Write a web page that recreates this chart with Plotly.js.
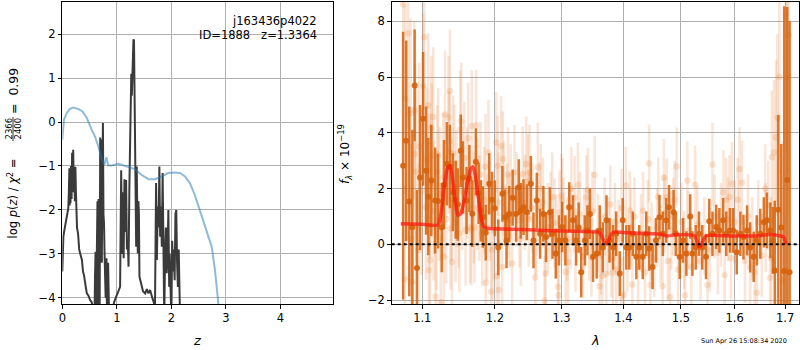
<!DOCTYPE html>
<html>
<head>
<meta charset="utf-8">
<script src="https://cdn.plot.ly/plotly-3.0.1.min.js"></script>
<style>html,body{margin:0;padding:0;background:#fff;}#plot{width:800px;height:350px;}</style>
</head>
<body>
<div id="plot"></div>
<script>
// ---------- Left panel: log p(z) ----------
const zPz = [0.00, 0.01, 0.02, 0.04, 0.07, 0.09, 0.11, 0.12, 0.13, 0.135, 0.14, 0.15, 0.16, 0.17, 0.18, 0.19, 0.20, 0.21, 0.22, 0.23, 0.24, 0.25, 0.26, 0.27, 0.29, 0.31, 0.33, 0.36, 0.38, 0.40, 0.43, 0.45, 0.48, 0.51, 0.54, 0.57, 0.59, 0.60, 0.61, 0.62, 0.63, 0.645, 0.655, 0.665, 0.675, 0.685, 0.695, 0.705, 0.715, 0.725, 0.735, 0.745, 0.755, 0.765, 0.775, 0.785, 0.795, 0.81, 0.82, 0.84, 0.86, 0.89, 0.92, 0.95, 0.98, 1.01, 1.04, 1.06, 1.08, 1.095, 1.11, 1.125, 1.14, 1.155, 1.17, 1.185, 1.20, 1.215, 1.23, 1.24, 1.255, 1.265, 1.275, 1.285, 1.295, 1.305, 1.315, 1.325, 1.335, 1.345, 1.355, 1.365, 1.375, 1.385, 1.395, 1.405, 1.415, 1.43, 1.45, 1.48, 1.52, 1.55, 1.58, 1.61, 1.64, 1.67, 1.70, 1.72, 1.735, 1.75, 1.765, 1.78, 1.795, 1.81, 1.825, 1.84, 1.855, 1.87, 1.885, 1.90, 1.915, 1.93, 1.945, 1.96, 1.97, 1.985, 2.00, 2.015, 2.03, 2.045, 2.06, 2.075, 2.09, 2.105, 2.12, 2.135, 2.15, 2.16];
const logPz = [-3.4, -3.0, -2.6, -2.45, -2.23, -2.05, -1.96, -1.6, -1.05, -1.9, -1.2, -1.85, -1.0, -1.75, -0.7, -1.6, -0.63, -1.5, -1.1, -1.8, -1.02, -1.6, -1.9, -2.4, -2.55, -2.9, -3.0, -3.14, -3.4, -3.5, -3.75, -3.9, -3.95, -4.05, -4.1, -4.5, -4.5, -3.5, -2.95, -4.3, -3.0, -1.8, -4.4, -1.75, -3.6, -4.4, -0.35, -2.8, -0.4, -3.2, -1.3, -0.02, -2.1, -2.3, -3.0, -3.3, -4.0, -3.1, -4.5, -3.2, -4.5, -4.5, -4.3, -4.1, -4.0, -3.9, -3.8, -3.75, -1.1, -3.0, -1.6, -3.1, -1.3, -2.5, -1.32, -2.9, -2.68, -3.29, -1.5, -0.71, 0.3, 1.1, 0.6, 1.12, 0.97, 1.88, 1.85, 0.81, -1.09, -2.2, -2.84, -1.01, -2.5, -2.99, -1.8, -2.08, -3.52, -3.6, -3.75, -3.85, -3.9, -3.8, -3.9, -3.82, -3.95, -4.05, -4.2, -1.39, -3.14, -1.92, -2.4, -1.01, -2.61, -1.92, -2.84, -1.16, -3.3, -4.5, -2.99, -2.4, -3.44, -2.99, -2.0, -3.75, -3.0, -3.5, -4.5, -2.7, -3.4, -2.9, -3.6, -2.1, -2.0, -3.2, -3.75, -2.9, -4.5, -4.5];
const zPrior = [0.0, 0.007, 0.03, 0.08, 0.14, 0.2, 0.29, 0.37, 0.45, 0.54, 0.6, 0.66, 0.72, 0.77, 0.81, 0.84, 0.9, 1.03, 1.18, 1.33, 1.45, 1.58, 1.7, 1.82, 1.94, 2.06, 2.16, 2.25, 2.34, 2.43, 2.52, 2.64, 2.74, 2.8, 2.86, 2.9];
const logPrior = [-0.4, -0.21, 0.05, 0.2, 0.3, 0.33, 0.3, 0.24, 0.09, -0.18, -0.33, -0.55, -0.82, -0.97, -0.8, -0.99, -0.99, -0.95, -1.01, -1.07, -1.2, -1.3, -1.3, -1.24, -1.16, -1.15, -1.16, -1.24, -1.39, -1.66, -2.0, -2.46, -2.84, -3.37, -4.13, -4.6];
const zTicks = [0, 1, 2, 3, 4];
const pzTicks = [-4, -3, -2, -1, 0, 1, 2];

// ---------- Right panel: spectrum ----------
const lamDark = [1.075, 1.079, 1.083, 1.087, 1.090, 1.093, 1.097, 1.101, 1.105, 1.108, 1.112, 1.117, 1.121, 1.126, 1.129, 1.133, 1.137, 1.141, 1.145, 1.148, 1.152, 1.155, 1.160, 1.164, 1.168, 1.173, 1.177, 1.180, 1.183, 1.187, 1.192, 1.196, 1.200, 1.205, 1.211, 1.215, 1.217, 1.221, 1.226, 1.231, 1.235, 1.238, 1.242, 1.247, 1.253, 1.257, 1.262, 1.267, 1.272, 1.276, 1.282, 1.286, 1.291, 1.296, 1.301, 1.306, 1.312, 1.318, 1.323, 1.327, 1.331, 1.337, 1.341, 1.345, 1.350, 1.356, 1.361, 1.366, 1.372, 1.377, 1.383, 1.388, 1.394, 1.399, 1.405, 1.410, 1.416, 1.422, 1.427, 1.433, 1.439, 1.444, 1.450, 1.456, 1.462, 1.468, 1.474, 1.479, 1.487, 1.491, 1.498, 1.504, 1.510, 1.517, 1.521, 1.527, 1.533, 1.539, 1.546, 1.552, 1.558, 1.565, 1.571, 1.578, 1.584, 1.591, 1.597, 1.604, 1.611, 1.617, 1.624, 1.630, 1.637, 1.643, 1.650, 1.657, 1.663, 1.670, 1.675, 1.679, 1.686, 1.692, 1.698, 1.704, 1.709];
const fluxDark = [2.82, 3.71, 1.54, 0.61, 5.70, -0.85, 2.40, 4.50, 2.64, 1.71, 2.29, 1.57, 1.55, 0.60, 2.14, 2.89, 2.79, 1.87, 1.60, 1.43, 3.36, 2.40, 1.57, 2.36, 1.10, 2.96, 1.83, 1.20, 0.98, 0.42, 2.17, 1.60, 1.29, -0.11, 1.81, 0.97, 0.14, 1.09, 1.67, 1.09, 2.05, 1.20, 1.33, 1.15, 2.17, 0.14, 1.57, 0.38, 1.09, 0.26, 1.15, 0.38, -0.33, 0.14, 0.62, 0.14, 1.33, 0.86, 0.14, 0.60, -1.00, 0.14, 0.50, 1.09, -0.45, -0.33, 0.50, -0.11, 0.86, 0.14, -0.11, 0.38, -1.05, 0.86, -0.11, -0.11, 0.38, -0.45, -0.11, -0.45, 0.38, -0.15, -0.81, 0.14, 0.97, 0.38, 0.86, 1.33, 1.15, 0.38, -0.45, 0.14, -0.33, 1.00, -0.33, -0.11, 0.38, -0.11, -0.45, 0.83, 0.38, 0.62, 0.50, 0.86, 0.38, 0.50, 0.50, -0.28, 0.38, 0.26, 0.50, -0.11, -0.45, 0.14, 0.38, 0.79, 0.86, 0.50, 0.14, -0.94, 1.24, 0.60, -0.96, 2.31, -1.00];
const errDark = [4.8, 3.6, 3.4, 3.5, 2.0, 2.8, 2.6, 2.4, 2.3, 2.1, 2.0, 1.9, 1.7, 1.6, 1.6, 1.5, 1.5, 1.4, 1.4, 1.3, 1.3, 1.3, 1.2, 1.2, 1.2, 1.2, 1.1, 1.1, 1.1, 1.0, 1.1, 1.0, 1.0, 1.0, 1.0, 1.0, 1.0, 1.0, 1.0, 1.0, 1.0, 1.0, 1.0, 1.0, 1.0, 1.0, 1.0, 0.9, 1.0, 0.9, 0.9, 0.9, 0.9, 0.9, 0.9, 0.9, 0.9, 0.9, 0.9, 0.9, 0.9, 0.9, 0.9, 0.9, 0.9, 0.9, 0.9, 0.9, 0.9, 0.8, 0.8, 0.8, 0.8, 0.8, 0.8, 0.8, 0.8, 0.8, 0.8, 0.8, 0.8, 0.8, 0.8, 0.8, 0.8, 0.8, 0.8, 0.8, 0.8, 0.8, 0.8, 0.8, 0.8, 0.8, 0.8, 0.8, 0.8, 0.8, 0.8, 0.8, 0.8, 0.8, 0.8, 0.8, 0.8, 0.8, 0.8, 0.8, 0.8, 0.8, 0.9, 0.9, 0.9, 0.9, 0.9, 0.9, 1.0, 1.0, 1.2, 2.5, 3.4, 3.0, 9.5, 6.2, 9.0];

const lamLight = [1.0752, 1.0772, 1.0816, 1.0847, 1.0869, 1.0895, 1.0904, 1.0961, 1.1013, 1.1026, 1.1049, 1.1079, 1.1089, 1.1102, 1.1119, 1.1124, 1.1146, 1.1177, 1.1190, 1.1212, 1.1248, 1.1288, 1.1305, 1.1351, 1.1372, 1.1378, 1.1400, 1.1413, 1.1449, 1.1490, 1.1513, 1.1527, 1.1586, 1.1623, 1.1665, 1.1673, 1.1735, 1.1795, 1.1866, 1.1870, 1.1909, 1.1948, 1.1962, 1.2020, 1.2029, 1.2043, 1.2058, 1.2092, 1.2107, 1.2116, 1.2189, 1.2214, 1.2253, 1.2287, 1.2361, 1.2410, 1.2461, 1.2485, 1.2510, 1.2596, 1.2636, 1.2662, 1.2712, 1.2738, 1.2753, 1.2857, 1.2892, 1.2944, 1.2955, 1.2970, 1.2997, 1.3012, 1.3064, 1.3100, 1.3154, 1.3206, 1.3258, 1.3338, 1.3393, 1.3418, 1.3473, 1.3527, 1.3608, 1.3652, 1.3718, 1.3784, 1.3827, 1.3883, 1.3967, 1.4011, 1.4040, 1.4107, 1.4153, 1.4335, 1.4440, 1.4464, 1.4599, 1.4676, 1.4699, 1.4748, 1.4806, 1.4866, 1.4927, 1.5076, 1.5118, 1.5259, 1.5487, 1.5580, 1.5787, 1.5838, 1.5901, 1.5947, 1.6093, 1.6140, 1.6301, 1.6432, 1.6596, 1.6695, 1.6729, 1.6775, 1.6815, 1.6841, 1.6882, 1.7012, 1.7045,
  1.078, 1.085, 1.092, 1.095, 1.099, 1.106, 1.110, 1.115, 1.120, 1.123, 1.128, 1.132, 1.136, 1.139, 1.143, 1.146, 1.150, 1.154, 1.157, 1.161, 1.165, 1.170, 1.171, 1.175, 1.178, 1.182, 1.185, 1.189, 1.193, 1.199, 1.205, 1.213, 1.218, 1.223, 1.232, 1.238, 1.244, 1.250, 1.255, 1.261, 1.268, 1.279, 1.283, 1.292, 1.303, 1.309, 1.314, 1.322, 1.329, 1.336, 1.344, 1.349, 1.358, 1.363, 1.369, 1.375, 1.380, 1.386, 1.392, 1.397, 1.407, 1.413, 1.419, 1.425, 1.430, 1.437, 1.442, 1.448, 1.453, 1.458, 1.464, 1.471, 1.477, 1.483, 1.489, 1.495, 1.501, 1.506, 1.514, 1.519, 1.530, 1.536, 1.543, 1.553, 1.562, 1.568, 1.574, 1.581, 1.587, 1.593, 1.600, 1.606, 1.620, 1.626, 1.634, 1.639, 1.646, 1.653, 1.661, 1.666, 1.672, 1.695, 1.707];
const fluxLight = [8.6, -1.26, 7.56, 4.7, -1.35, 4.82, 3.24, 3.51, 5.68, 7.43, 1.33, 4.99, -0.93, -0.57, 4.16, 3.18, 4.57, -1.88, 0.86, 3.21, -2.07, -0.45, 4.66, 4.55, 5.5, 0.57, -0.63, 3.24, 0.76, 1.24, 4.13, 4.41, 0.52, 3.8, 0.52, 4.24, 4.27, 2.5, 2.78, -1.38, 3.29, -1.7, -0.19, 3.65, -1.14, 2.82, -1.64, 3.52, -0.81, 3.06, 2.5, 0.86, -0.69, 2.58, 0.86, 2.52, 2.88, 2.24, 2.58, -1.19, 2.76, 1.33, 1.51, -2.02, -1.05, 1.69, 0.76, -1.52, -1.83, 1.15, 1.75, 1.59, -0.99, -0.63, 1.99, 1.67, 2.14, -0.45, 1.69, 1.95, -0.48, 2.49, -1.5, -1.14, -1.07, 1.43, -1.02, -0.9, -1.88, -1.8, 2.1, 1.21, -1.44, 1.2, 2.9, -1.46, 1.71, -1.5, 2.38, 1.69, -1.9, 0.97, 2.79, -1.83, 2.29, 2.14, -1.46, 2.86, 1.87, 1.6, 1.7, 2.17, 2.7, 2.21, -0.81, -1.74, 1.99, -1.2, 3.12, 3.29, 3.83, 4.54, 6.0, 8.26, 6.0,
  5.2, 0.2, 2.6, -0.2, 1.9, 3.0, 2.1, 1.2, 2.6, 1.8, 2.4, 0.9, 3.3, 1.6, 2.9, 2.0, 0.4, 1.9, 3.1, 2.2, 0.6, 1.3, 0.6, 1.8, 1.3, 0.4, 1.6, 0.6, 1.2, 0.5, 1.5, 2.0, 1.2, 1.9, 1.6, 0.2, 1.5, 0.9, 1.3, 0.5, 2.0, 0.6, 1.0, 0.3, 0.9, 0.2, 0.6, -0.2, 1.1, 0.5, 0.1, 1.2, 0.4, -0.4, 1.0, 0.3, -0.5, 0.8, 0.2, 1.3, -0.3, 0.6, 1.0, -0.8, 0.4, -1.0, 0.9, 0.1, -0.5, 0.6, 0.0, 1.1, -0.6, 0.5, 1.6, -0.9, 0.8, -0.2, 0.5, -0.8, 0.7, -0.6, 0.3, -0.2, 1.0, -0.3, 0.7, -1.1, 0.9, -0.5, 0.8, 1.6, -0.6, 1.0, 0.2, -1.0, 0.8, -0.4, 0.6, 1.4, -0.5, -1.3, 7.5];
const errLight = [3.4, 3.4, 3.4, 3.4, 3.4, 3.2, 3.2, 3.0, 2.6, 2.6, 2.6, 2.6, 2.6, 2.6, 2.6, 2.6, 2.5, 2.5, 2.5, 2.4, 2.4, 2.3, 2.3, 2.2, 2.2, 2.2, 2.2, 2.1, 2.1, 2.1, 2.1, 2.1, 2.0, 2.0, 2.0, 2.0, 2.0, 1.9, 1.9, 1.9, 1.9, 1.8, 1.8, 1.8, 1.8, 1.8, 1.8, 1.8, 1.8, 1.7, 1.7, 1.7, 1.7, 1.7, 1.7, 1.7, 1.7, 1.7, 1.7, 1.6, 1.6, 1.6, 1.6, 1.6, 1.6, 1.6, 1.6, 1.5, 1.5, 1.5, 1.5, 1.5, 1.5, 1.5, 1.5, 1.5, 1.5, 1.5, 1.5, 1.5, 1.4, 1.4, 1.4, 1.4, 1.4, 1.4, 1.4, 1.4, 1.4, 1.4, 1.4, 1.4, 1.4, 1.4, 1.4, 1.4, 1.4, 1.4, 1.4, 1.4, 1.4, 1.4, 1.4, 1.4, 1.4, 1.4, 1.4, 1.5, 1.5, 1.5, 1.5, 1.5, 1.5, 1.5, 1.5, 1.5, 1.6, 2.2, 2.4, 2.6, 2.8, 3.0, 3.5, 5.0, 5.0,
  3.4, 3.4, 3.2, 3.1, 3.0, 2.6, 2.6, 2.5, 2.4, 2.4, 2.3, 2.3, 2.2, 2.2, 2.1, 2.1, 2.1, 2.1, 2.0, 2.0, 2.0, 2.0, 2.0, 2.0, 1.9, 1.9, 1.9, 1.9, 1.8, 1.8, 1.8, 1.7, 1.7, 1.7, 1.7, 1.7, 1.7, 1.7, 1.6, 1.6, 1.6, 1.6, 1.6, 1.5, 1.5, 1.5, 1.5, 1.5, 1.5, 1.5, 1.4, 1.4, 1.4, 1.4, 1.4, 1.4, 1.4, 1.4, 1.4, 1.4, 1.4, 1.4, 1.4, 1.4, 1.4, 1.4, 1.4, 1.4, 1.4, 1.4, 1.4, 1.4, 1.4, 1.4, 1.4, 1.4, 1.4, 1.4, 1.4, 1.4, 1.4, 1.4, 1.4, 1.5, 1.5, 1.5, 1.5, 1.5, 1.5, 1.5, 1.5, 1.5, 1.5, 1.5, 1.5, 1.5, 1.5, 1.5, 1.6, 1.6, 2.2, 5.0, 5.0];

const lamModel = [1.072, 1.100, 1.121, 1.126, 1.130, 1.134, 1.137, 1.140, 1.144, 1.148, 1.152, 1.157, 1.162, 1.166, 1.169, 1.172, 1.176, 1.180, 1.184, 1.188, 1.20, 1.25, 1.30, 1.35, 1.358, 1.362, 1.366, 1.370, 1.374, 1.378, 1.382, 1.388, 1.40, 1.45, 1.465, 1.475, 1.49, 1.52, 1.525, 1.529, 1.533, 1.537, 1.541, 1.546, 1.55, 1.60, 1.65, 1.665, 1.675, 1.69, 1.697, 1.701];
const fluxModel = [0.74, 0.72, 0.70, 1.3, 2.2, 2.75, 2.82, 2.5, 1.6, 1.04, 1.1, 1.6, 2.3, 2.7, 2.78, 2.5, 1.8, 1.0, 0.65, 0.58, 0.56, 0.52, 0.48, 0.45, 0.44, 0.38, 0.2, 0.03, 0.05, 0.28, 0.42, 0.44, 0.42, 0.38, 0.36, 0.3, 0.34, 0.33, 0.3, 0.15, -0.08, -0.05, 0.15, 0.3, 0.32, 0.3, 0.31, 0.35, 0.34, 0.3, 0.26, 0.0];
const lamTicks = [1.1, 1.2, 1.3, 1.4, 1.5, 1.6, 1.7];
const lamTickText = ['1.1', '1.2', '1.3', '1.4', '1.5', '1.6', '1.7'];
const fluxTicks = [-2, 0, 2, 4, 6, 8];

// ---------- helpers for layout placement (pixels -> paper) ----------
const W = 800, TOP = 2, BOT = 304;
const PX = x => x / W;
const PY = y => (BOT - y) / (BOT - TOP);

const FONT = 'DejaVu Sans, sans-serif';
const gridC = '#b0b0b0';

const axisCommon = {
  showline: true, linecolor: '#000', linewidth: 1, mirror: true,
  ticks: 'outside', ticklen: 3.5, tickwidth: 1, tickcolor: '#000',
  showgrid: true, gridcolor: gridC, gridwidth: 1, zeroline: false,
  ticklabelstandoff: 2.5,
  tickfont: {family: FONT, size: 11.5, color: '#000'}
};

const traces = [
  {x: zPz, y: logPz, xaxis: 'x', yaxis: 'y', type: 'scatter', mode: 'lines',
   line: {color: '#3a3a3a', width: 2}, hoverinfo: 'skip'},
  {x: zPrior, y: logPrior, xaxis: 'x', yaxis: 'y', type: 'scatter', mode: 'lines',
   line: {color: 'rgba(31,119,180,0.5)', width: 2}, hoverinfo: 'skip'},
  {x: lamLight, y: fluxLight, xaxis: 'x2', yaxis: 'y2', type: 'scatter', mode: 'markers',
   marker: {color: 'rgba(232,130,60,0.22)', size: 6.5, line: {width: 0}},
   error_y: {type: 'data', array: errLight, visible: true, color: 'rgba(232,130,60,0.2)', thickness: 2.6, width: 0},
   hoverinfo: 'skip'},
  {x: lamDark, y: fluxDark, xaxis: 'x2', yaxis: 'y2', type: 'scatter', mode: 'markers',
   marker: {color: 'rgba(214,98,12,0.9)', size: 6, line: {width: 0}},
   error_y: {type: 'data', array: errDark, visible: true, color: 'rgba(214,98,12,0.85)', thickness: 2.5, width: 0},
   hoverinfo: 'skip'},
  {x: lamModel, y: fluxModel, xaxis: 'x2', yaxis: 'y2', type: 'scatter', mode: 'lines',
   line: {color: 'rgba(255,20,10,0.7)', width: 3.5, shape: 'spline', smoothing: 0.6}, hoverinfo: 'skip'}
];

const layout = {
  width: 800, height: 350,
  margin: {l: 0, r: 0, t: TOP, b: 350 - BOT},
  paper_bgcolor: '#fff', plot_bgcolor: '#fff',
  showlegend: false,
  font: {family: FONT, size: 11.5, color: '#000'},
  xaxis: Object.assign({}, axisCommon, {domain: [PX(62.3), PX(333.3)], range: [0, 4.97],
    tickvals: zTicks, anchor: 'y'}),
  yaxis: Object.assign({}, axisCommon, {domain: [0, 1], range: [-4.14, 2.73],
    tickvals: pzTicks, anchor: 'x'}),
  xaxis2: Object.assign({}, axisCommon, {domain: [PX(391.7), PX(799)], type: 'log',
    range: [Math.log10(1.0604), Math.log10(1.7284)], tickvals: lamTicks, ticktext: lamTickText, anchor: 'y2'}),
  yaxis2: Object.assign({}, axisCommon, {domain: [0, 1], range: [-2.14, 8.69],
    tickvals: fluxTicks, anchor: 'x2'}),
  shapes: [
    {type: 'line', xref: 'x2 domain', yref: 'y2', x0: 0, x1: 1, y0: 0, y1: 0,
     line: {color: '#000', width: 2, dash: 'dot'}},
    {type: 'line', xref: 'paper', yref: 'paper', x0: PX(13), x1: PX(13), y0: PY(117), y1: PY(141),
     line: {color: '#000', width: 0.8}}
  ],
  annotations: [
    {xref: 'paper', yref: 'paper', x: PX(318.5), y: PY(20.5), xanchor: 'right', yanchor: 'middle',
     text: 'j163436p4022', showarrow: false, font: {family: FONT, size: 11.5, color: '#000'}},
    {xref: 'paper', yref: 'paper', x: PX(318.5), y: PY(35), xanchor: 'right', yanchor: 'middle',
     text: 'ID=1888\u00a0\u00a0\u00a0z=1.3364', showarrow: false, font: {family: FONT, size: 11.5, color: '#000'}},
    {xref: 'paper', yref: 'paper', x: PX(197), y: PY(340), xanchor: 'center', yanchor: 'middle',
     text: '<i>z</i>', showarrow: false, font: {family: FONT, size: 13, color: '#000'}},
    {xref: 'paper', yref: 'paper', x: PX(595), y: PY(340), xanchor: 'center', yanchor: 'middle',
     text: '<i>λ</i>', showarrow: false, font: {family: FONT, size: 13, color: '#000'}},
    {xref: 'paper', yref: 'paper', x: PX(13.5), y: PY(241), xanchor: 'center', yanchor: 'bottom', textangle: -90,
     text: 'log <i>p</i>(<i>z</i>) / <i>χ</i><sup>2</sup> =', showarrow: false, font: {family: FONT, size: 11.5, color: '#000'}},
    {xref: 'paper', yref: 'paper', x: PX(8.5), y: PY(129), xanchor: 'center', yanchor: 'middle', textangle: -90,
     text: '2366', showarrow: false, font: {family: FONT, size: 8.5, color: '#000'}},
    {xref: 'paper', yref: 'paper', x: PX(17.5), y: PY(129), xanchor: 'center', yanchor: 'middle', textangle: -90,
     text: '2400', showarrow: false, font: {family: FONT, size: 8.5, color: '#000'}},
    {xref: 'paper', yref: 'paper', x: PX(13.5), y: PY(91.5), xanchor: 'center', yanchor: 'middle', textangle: -90,
     text: '=\u00a0\u00a00.99', showarrow: false, font: {family: FONT, size: 12.5, color: '#000'}},
    {xref: 'paper', yref: 'paper', x: PX(345), y: PY(154), xanchor: 'center', yanchor: 'middle', textangle: -90,
     text: '<i>f</i><sub><i>λ</i></sub> × 10<sup>−19</sup>', showarrow: false, font: {family: FONT, size: 12, color: '#000'}},
    {xref: 'paper', yref: 'paper', x: PX(788.5), y: PY(340.5), xanchor: 'right', yanchor: 'middle',
     text: 'Sun Apr 26 15:08:34 2020', showarrow: false, font: {family: FONT, size: 6.5, color: '#000'}}
  ]
};

Plotly.newPlot('plot', traces, layout, {staticPlot: true, displayModeBar: false});
</script>
</body>
</html>
